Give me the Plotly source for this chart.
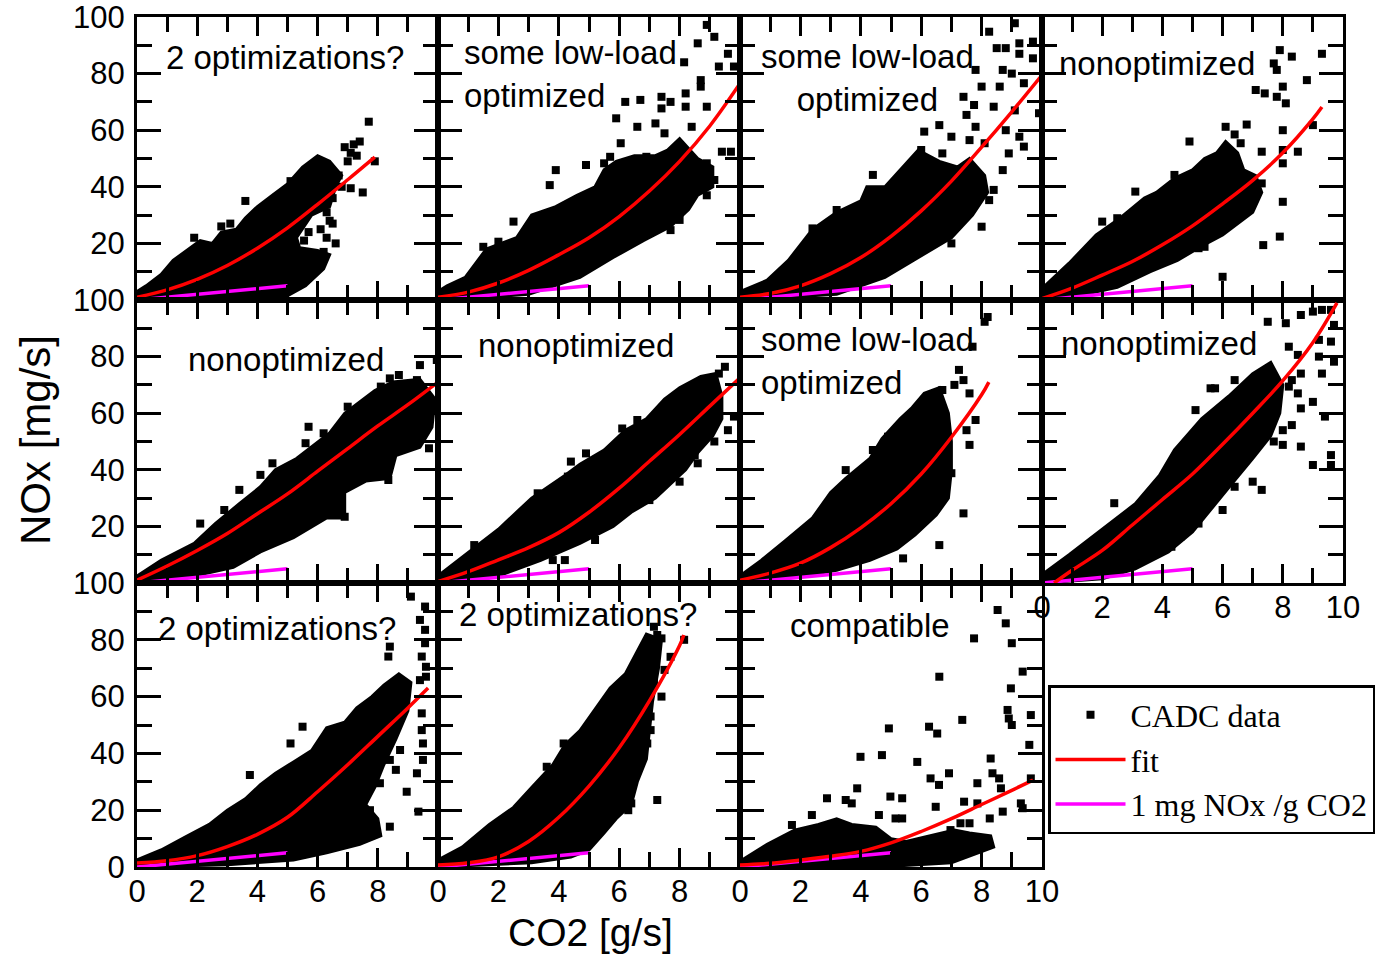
import plotly.graph_objects as go

# ---------------- data ----------------
PANEL_LABELS = [
    ["2 optimizations?"],
    ["some low-load", "optimized"],
    ["some low-load", "optimized"],
    ["nonoptimized"],
    ["nonoptimized"],
    ["nonoptimized"],
    ["some low-load", "optimized"],
    ["nonoptimized"],
    ["2 optimizations?"],
    ["2 optimizations?"],
    ["compatible"],
]

X_TICKS = [0, 2, 4, 6, 8, 10]
Y_TICKS = [0, 20, 40, 60, 80, 100]

# 1 mg NOx / g CO2 reference line
REF_X = [0, 5]
REF_Y = [0, 5]

# fits (x, y)
FIT_1 = [(0, 1), (1, 3.6), (2, 7.3), (3, 12.2), (4, 18.3), (5, 25.5), (6, 33.8), (7, 42.5), (7.9, 50.5)]
FIT_2 = [(0, 1), (1, 2.8), (2, 6), (3, 10.5), (4, 16), (5, 22), (6, 29.5), (7, 38.5), (8, 49), (9, 61.5), (10, 76.5)]
FIT_3 = [(0, 1), (1, 2.3), (2, 5), (3, 9.3), (4, 15), (5, 22.5), (6, 31.5), (7, 42), (8, 54), (9, 66.5), (10, 79.5)]
FIT_4 = [(0, 0.5), (1, 4.2), (2, 8.8), (3, 13.6), (4, 19.5), (5, 26.2), (6, 34), (7, 42.3), (8, 52), (9, 64), (9.3, 68.2)]
FIT_5 = [(0, 1), (1, 6), (2, 11.5), (3, 17.5), (4, 24.5), (5, 31.5), (6, 39.5), (7, 47.5), (8, 55.5), (9, 63), (10, 71)]
FIT_6 = [(0, 0.5), (1, 4), (2, 8.2), (3, 12.5), (4, 17.8), (5, 25), (6, 33.5), (7, 43), (8, 52.5), (9, 62.5), (10, 72.5)]
FIT_7 = [(0, 1), (1, 3.5), (2, 7), (3, 12.5), (4, 19.5), (5, 28), (6, 38.5), (7, 51.5), (8, 66.5), (8.24, 71)]
FIT_8 = [(0.4, 0), (1, 4.5), (2, 11.5), (3, 20.5), (4, 29.5), (5, 38.5), (6, 49), (7, 60), (8, 71.5), (9, 85), (9.8, 99)]
FIT_9 = [(0, 1.4), (1, 2.2), (2, 4), (3, 7.2), (4, 11.5), (5, 17.5), (6, 26.5), (7, 36), (8, 46), (9, 56), (9.67, 63)]
FIT_10 = [(0, 0.7), (1, 1.5), (2, 3.6), (3, 9), (4, 17.5), (5, 28.5), (6, 42), (7, 58.5), (8, 78), (8.14, 81.7)]
FIT_11 = [(0, 0.7), (1, 1.3), (2, 2.5), (3, 3.8), (4, 5.5), (5, 8.5), (6, 12.5), (7, 17), (8, 22), (9, 27), (9.7, 30.6)]

# dense cores of the CADC data clouds (outline of the solid black region)
CORE_1 = [(0, 0), (5, 1.5), (5.6, 5), (6.2, 11), (6.4, 16), (6.0, 17.5), (5.4, 18.5), (5.3, 22), (5.8, 30), (6.4, 33),
          (6.6, 40), (6.8, 44), (6.4, 49), (6.0, 51), (5.5, 47), (5.0, 41), (4.5, 37), (4.0, 33), (3.6, 29), (3.3, 25),
          (2.8, 24), (2.5, 20), (2.1, 21), (1.7, 18), (1.2, 14), (0.8, 9), (0.3, 5), (0, 3)]
CORE_2 = [(0, 0), (3, 2), (4.7, 8), (5.8, 15), (6.8, 21), (7.7, 26), (8.3, 32), (8.6, 37), (9.1, 40), (9.1, 47),
          (8.6, 50), (8.0, 57), (7.6, 53), (7.2, 51), (6.5, 51), (5.9, 49), (5.5, 46), (5.2, 40), (4.6, 37), (3.9, 33),
          (3.1, 30), (2.6, 22), (1.6, 18), (0.9, 8), (0.3, 5), (0, 3)]
CORE_3 = [(0, 0), (3.2, 2), (4.8, 8), (5.9, 15), (7.0, 22), (7.7, 30), (8.2, 38), (8.1, 44), (7.6, 50), (7.2, 47),
          (6.6, 49), (5.9, 53), (5.4, 47), (4.8, 40), (4.2, 40), (4.0, 35), (3.2, 31), (2.4, 25), (1.6, 14), (0.9, 7),
          (0, 3)]
CORE_4 = [(0, 0), (1.2, 1.5), (2.5, 4.5), (3.6, 10), (4.5, 14), (5.3, 19), (6.0, 23), (6.5, 27), (7.0, 31), (7.3, 38),
          (7.1, 44), (6.7, 46), (6.5, 52), (6.1, 56), (5.8, 52), (5.4, 50), (5.0, 46), (4.4, 43), (3.8, 38), (3.4, 36),
          (2.6, 29), (1.8, 23), (0.9, 13), (0, 4)]
CORE_5 = [(0, 0), (1.9, 2.5), (3.2, 5.5), (4.1, 11), (5.2, 16), (6.3, 23), (6.9, 23), (6.9, 32), (7.6, 36), (8.4, 37),
          (8.6, 45), (9.4, 48), (9.8, 55), (9.9, 65), (9.4, 72), (8.5, 71), (7.9, 68), (7.4, 64), (6.9, 60), (6.4, 53),
          (5.8, 48), (5.3, 44), (4.6, 40), (4.1, 34), (3.4, 28), (2.6, 21), (1.9, 14), (0.8, 8), (0, 2.5)]
CORE_6 = [(0, 0), (2, 2.5), (3.4, 8), (4.7, 14), (5.8, 20), (6.4, 25), (7.2, 30), (7.7, 35), (8.2, 40), (8.6, 46),
          (9.1, 52), (9.4, 58), (9.4, 66), (9.2, 74), (8.7, 73), (8.0, 69), (7.5, 65), (6.9, 58), (6.2, 54), (5.5, 47),
          (4.7, 42), (4.2, 38), (3.1, 30), (2.0, 19), (0.8, 9), (0, 2.5)]
CORE_7 = [(0, 0), (2.1, 2.5), (3.2, 4.5), (4.3, 8), (5.2, 12), (5.8, 17), (6.5, 24), (6.9, 30), (7.0, 40), (7.0, 50),
          (6.9, 60), (6.6, 69), (6.1, 67), (5.7, 62), (5.3, 58), (4.7, 51), (4.3, 44), (3.5, 37), (3.0, 32), (2.4, 23),
          (1.5, 15), (0.7, 8), (0, 2.5)]
CORE_8 = [(0, 0), (2, 1.5), (3.1, 5), (4.2, 11), (5.0, 18), (5.6, 26), (6.3, 35), (7.0, 44), (7.6, 52), (7.9, 60),
          (8.0, 70), (7.6, 78), (7.0, 74), (6.2, 66), (5.3, 58), (4.4, 47), (3.9, 38), (3.1, 28), (2.0, 19), (0.9, 10),
          (0, 3)]
CORE_9 = [(0, 0), (3, 0.8), (5.2, 2.5), (6.3, 5), (7.4, 8), (8.1, 11), (8.0, 17), (7.6, 22), (7.9, 28), (8.2, 36),
          (8.6, 45), (9.0, 55), (9.1, 65), (8.7, 68), (8.2, 64), (7.8, 60), (7.3, 56), (6.9, 51), (6.3, 49), (5.8, 41),
          (5.2, 37), (4.6, 33), (4.1, 29), (3.6, 24), (3.0, 20), (2.4, 15), (1.6, 10.5), (0.8, 6), (0, 2.5)]
CORE_10 = [(0, 0), (3.1, 1.5), (4.4, 3.5), (5.0, 6), (5.5, 12), (5.9, 17), (6.4, 22), (6.6, 30), (6.9, 38), (7.0, 48),
           (7.1, 58), (7.3, 70), (7.4, 80), (6.9, 82), (6.6, 76), (6.2, 68), (5.7, 63), (5.3, 57), (4.7, 48), (4.2, 43),
           (3.8, 36), (3.1, 28), (2.5, 21), (1.7, 15), (0.8, 7), (0, 2.5)]
CORE_11 = [(0, 0), (5.4, 0.5), (7.0, 1.5), (8.4, 7), (8.3, 11), (7.6, 12), (7.1, 13), (6.3, 11), (5.5, 9), (5.0, 10),
           (4.5, 14), (3.7, 15), (3.2, 17), (2.6, 15), (1.8, 13), (0.9, 8), (0, 2)]

# individual (sparse) CADC data points
PTS_1 = [(7.7, 63), (7.2, 55), (7.4, 56), (6.9, 54), (7.1, 52), (7.3, 51), (7.0, 49), (7.5, 38), (7.1, 39.5), (6.8, 40),
         (6.5, 36), (6.3, 31), (6.4, 28), (6.5, 27), (6.1, 25), (5.7, 24), (5.55, 21), (6.3, 22), (6.6, 20), (6.2, 17),
         (3.6, 35), (2.8, 26), (4.1, 29.5), (5.1, 42), (5.3, 40), (5.9, 46), (6.2, 48), (4.8, 24), (7.9, 49), (6.7, 44),
         (1.9, 22), (3.1, 27)]
PTS_2 = [(8.9, 97.2), (9.15, 93), (8.6, 90.7), (9.6, 87), (9.3, 82.5), (9.8, 82.5), (8.15, 84), (8.7, 77.7), (8.7, 75.4),
         (8.2, 73), (7.4, 71.8), (7.7, 70), (6.7, 70.7), (6.2, 70), (8.2, 68.3), (8.9, 68.3), (7.4, 67.7), (5.9, 64.2),
         (6.6, 61.2), (7.2, 62.4), (7.5, 58.9), (6.05, 55.4), (4.9, 47.7), (3.9, 45.9), (3.7, 40.6), (2.5, 27.7),
         (1.5, 18.8), (2.0, 20.6), (9.4, 52.4), (9.7, 52.4), (8.9, 37), (8.0, 28.3), (7.7, 24.7), (6.8, 29.4),
         (6.4, 34.2), (5.5, 48.3), (5.7, 50.6), (6.9, 50.6), (8.4, 61.2), (8.9, 48.3), (9.15, 42.4)]
PTS_3 = [(9.1, 97.8), (8.25, 94.8), (9.25, 90.7), (9.7, 91.3), (8.5, 89), (8.8, 89), (9.7, 85.4), (9.25, 87), (8.7, 81.3),
         (7.8, 81.3), (9.0, 80), (8.0, 75.4), (9.4, 76.6), (8.6, 75.4), (7.4, 71.8), (7.75, 68.9), (8.4, 68.3), (9.1, 67),
         (9.9, 66), (7.5, 65.4), (6.1, 59.5), (6.6, 61.8), (7.0, 57.7), (7.8, 61.2), (7.6, 56.5), (8.1, 55.4), (8.8, 60),
         (9.25, 57.7), (9.4, 54.2), (8.9, 51.8), (8.7, 45.9), (8.4, 38.9), (8.25, 35.3), (8.0, 25.9), (7.0, 20),
         (4.4, 44.2), (3.2, 31.8), (2.4, 25.3), (6.0, 53), (6.7, 51.8)]
PTS_4 = [(7.9, 88.3), (8.3, 86), (9.3, 87), (7.7, 83.6), (7.8, 81.3), (8.0, 75.4), (7.1, 74.2), (7.4, 73), (7.8, 71.8),
         (8.1, 69.5), (8.8, 77.7), (9.0, 61.8), (8.0, 60), (8.0, 53), (8.5, 52.4), (8.0, 48.3), (4.9, 56), (7.3, 52.4),
         (6.6, 55.4), (6.1, 61.2), (6.0, 47.7), (7.3, 41.2), (8.0, 34.7), (7.9, 22.4), (7.35, 19.4), (5.2, 18.3),
         (5.4, 18.8), (6.0, 8.2), (3.1, 38.3), (2.0, 27.7), (4.4, 44.2), (2.5, 28.9), (6.8, 62), (6.4, 58.5)]
PTS_5 = [(9.96, 78.8), (9.4, 77), (8.7, 73.5), (8.4, 72.3), (8.1, 69.4), (9.3, 71.7), (9.2, 69.4), (9.0, 64.7), (9.3, 63.5),
         (9.4, 58.8), (9.1, 54), (9.0, 48.8), (9.7, 47.6), (8.35, 36.4), (8.2, 42.3), (7.0, 62.3), (5.7, 55.2), (5.6, 49.4),
         (6.2, 52.9), (6.9, 23.4), (6.5, 27), (4.5, 42.3), (4.1, 38.2), (3.4, 32.9), (2.9, 25.8), (2.1, 21), (8.2, 61.1),
         (7.85, 56.4)]
PTS_6 = [(9.5, 76.4), (9.3, 74), (9.8, 58.8), (9.6, 54), (9.15, 50), (8.6, 42.3), (8.5, 45.2), (8.0, 35.8), (7.0, 29.3),
         (7.7, 37.6), (6.6, 57.6), (6.1, 54.6), (4.4, 42.9), (4.9, 45.8), (4.3, 37.6), (3.3, 31.7), (3.2, 27),
         (5.2, 15.2), (4.2, 8.1), (3.8, 8.1), (2.7, 11.7), (1.2, 13.4), (8.8, 56.4), (8.4, 63.5)]
PTS_7 = [(8.2, 94), (8.1, 92.3), (7.7, 83.5), (7.25, 75.3), (7.4, 71.7), (7.1, 70), (6.7, 68.2), (7.6, 67), (7.8, 57.6),
         (7.5, 54), (7.6, 48.8), (7.4, 24.6), (6.6, 13.4), (5.4, 8.7), (5.6, 51.7), (4.9, 51.7), (3.5, 39.9), (4.4, 47),
         (6.0, 58.8), (6.5, 64.7), (7.0, 38.8), (6.7, 30.5)]
PTS_8 = [(7.5, 92.3), (8.1, 91.8), (8.6, 94.7), (9.0, 95.9), (9.3, 96.5), (9.6, 96.5), (9.7, 91.2), (9.2, 85.9),
         (9.6, 85.3), (9.2, 80), (9.7, 78.2), (8.2, 83.5), (8.5, 80.6), (8.3, 71.7), (8.6, 74), (9.3, 74), (8.2, 69.4),
         (8.5, 67), (9.0, 64), (8.6, 61.7), (9.4, 58.8), (9.0, 41.7), (9.6, 45.2), (9.6, 41.7), (8.3, 55.8), (8.0, 54),
         (7.7, 50), (8.0, 48.8), (8.6, 48.2), (7.1, 54), (7.2, 51.7), (6.9, 48.2), (6.4, 71.7), (5.6, 68.8), (5.75, 68.8),
         (5.1, 61.1), (6.5, 50.5), (6.0, 47), (7.0, 35.8), (7.3, 32.9), (6.4, 34), (5.6, 28.8), (6.0, 25.8), (5.2, 21),
         (4.6, 16.4), (4.3, 12.8), (2.4, 28.2)]
PTS_9 = [(9.1, 95.2), (9.57, 91.7), (9.4, 87), (9.57, 83.5), (9.57, 78.8), (9.46, 74.1), (9.6, 70.5), (9.6, 67), (8.4, 77.6),
         (8.35, 74.1), (9.4, 65.8), (9.46, 54.1), (9.46, 48.2), (9.5, 43.5), (9.5, 37.7), (9.3, 33), (8.96, 26.5),
         (9.35, 19.5), (8.6, 34.2), (8.4, 37.7), (8.74, 41.2), (8.07, 29.5), (8.4, 14.2), (7.74, 20), (7.5, 21.2),
         (3.75, 32.4), (5.1, 43.5), (5.5, 49.4), (7.74, 57.6), (8.5, 55.3), (8.74, 58.8), (8.3, 50.6), (7.4, 34.2)]
PTS_10 = [(8.15, 80), (7.4, 80.5), (7.15, 84.6), (7.26, 81.7), (7.7, 74), (7.5, 69.4), (7.15, 65.8), (7.4, 60), (7.04, 53),
          (7.04, 48.2), (6.93, 43.5), (6.6, 37.7), (6.5, 34.2), (6.4, 29.5), (6.4, 22.4), (6.3, 20), (7.26, 23.6),
          (5.27, 16.5), (4.16, 43.5), (3.6, 35.3), (5.5, 31.8), (5.5, 36.5), (5.9, 34.2), (5.4, 27), (4.94, 29.5),
          (5.7, 27)]
PTS_11 = [(8.53, 90.5), (8.8, 85.8), (9.0, 78.8), (7.75, 80.5), (6.6, 67), (9.36, 68.8), (8.97, 62.9), (8.86, 55.3),
          (8.9, 52.3), (9.0, 50), (9.63, 53.5), (9.58, 43), (4.93, 48.8), (3.99, 38.8), (4.7, 39.4), (6.26, 49.4),
          (6.53, 47), (5.87, 37), (7.36, 51.8), (8.3, 38.2), (6.31, 31.2), (6.59, 28.9), (6.92, 33), (7.86, 29.5),
          (8.36, 33), (8.58, 31.2), (8.64, 27.7), (9.63, 31.2), (9.3, 22.4), (9.36, 20.7), (8.7, 19.5), (8.27, 17.1),
          (7.42, 23), (7.3, 15.4), (7.6, 15.4), (6.48, 21.2), (3.88, 27.7), (2.88, 24.2), (3.5, 23.6), (3.7, 22.4),
          (2.38, 18.3), (1.72, 14.8), (4.98, 24.8), (5.37, 24.2), (5.15, 17.1), (5.37, 17.1), (4.6, 18.3), (6.97, 13),
          (7.86, 22.4)]

FITS = [FIT_1, FIT_2, FIT_3, FIT_4, FIT_5, FIT_6, FIT_7, FIT_8, FIT_9, FIT_10, FIT_11]
CORES = [CORE_1, CORE_2, CORE_3, CORE_4, CORE_5, CORE_6, CORE_7, CORE_8, CORE_9, CORE_10, CORE_11]
POINTS = [PTS_1, PTS_2, PTS_3, PTS_4, PTS_5, PTS_6, PTS_7, PTS_8, PTS_9, PTS_10, PTS_11]

# ---------------- layout (pixels of the 1400x959 page) ----------------
W, H = 1400, 959
COL_PX = [(137, 438), (438, 740), (740, 1042), (1042, 1343)]
ROW_PX = [(17, 300), (300, 583), (583, 867)]
PANEL_POS = [(0, 0), (0, 1), (0, 2), (0, 3), (1, 0), (1, 1), (1, 2), (1, 3), (2, 0), (2, 1), (2, 2)]
# label placement per panel: (x px, y px of block centre, xanchor/align)
LABEL_PX = [
    (285, 57, "center"),
    (462, 74, "left"),
    (867, 78, "center"),
    (1157, 63, "center"),
    (286, 359, "center"),
    (576, 345, "center"),
    (759, 361, "left"),
    (1159, 343, "center"),
    (277, 628, "center"),
    (578, 614, "center"),
    (870, 625, "center"),
]

SANS = "Liberation Sans"
SERIF = "Liberation Serif"
TICK_FONT = dict(family=SANS, size=31, color="black")


def fx(px):
    return px / W


def fy(py):
    return 1 - py / H


fig = go.Figure()
layout = dict(
    width=W, height=H, margin=dict(l=0, r=0, t=0, b=0, autoexpand=False),
    paper_bgcolor="white", plot_bgcolor="white",
    showlegend=True,
)

annotations = []

for k, (r, c) in enumerate(PANEL_POS, start=1):
    xn = "x" if k == 1 else f"x{k}"
    yn = "y" if k == 1 else f"y{k}"
    xkey = "xaxis" if k == 1 else f"xaxis{k}"
    ykey = "yaxis" if k == 1 else f"yaxis{k}"

    c0, c1 = COL_PX[c]
    r0, r1 = ROW_PX[r]

    show_x = k in (8, 9, 10, 11)
    if k in (9, 10):
        xtext = [str(v) for v in X_TICKS[:-1]] + [""]
    else:
        xtext = [str(v) for v in X_TICKS]
    show_y = k in (1, 5, 9)
    if k == 9:
        ytext = [str(v) for v in Y_TICKS]
    else:
        ytext = [""] + [str(v) for v in Y_TICKS[1:]]

    layout[xkey] = dict(
        domain=[fx(c0), fx(c1)], range=[0, 10], anchor=yn, automargin=False,
        showline=True, linewidth=3, linecolor="black", mirror="ticks",
        ticks="inside", ticklen=19, tickwidth=2.5, tickcolor="black",
        tickmode="array", tickvals=X_TICKS, ticktext=xtext,
        showticklabels=show_x, tickfont=TICK_FONT, ticklabelstandoff=-5,
        ticklabeloverflow="allow",
        minor=dict(dtick=1, tick0=0, ticks="inside", ticklen=15, tickwidth=2.5, tickcolor="black", showgrid=False),
        showgrid=False, zeroline=False, fixedrange=True,
    )
    layout[ykey] = dict(
        domain=[fy(r1), fy(r0)], range=[0, 100], anchor=xn, automargin=False,
        showline=True, linewidth=3, linecolor="black", mirror="ticks",
        ticks="inside", ticklen=24, tickwidth=2.5, tickcolor="black",
        tickmode="array", tickvals=Y_TICKS, ticktext=ytext,
        showticklabels=show_y, tickfont=TICK_FONT, ticklabelstandoff=3,
        ticklabeloverflow="allow",
        minor=dict(dtick=10, tick0=0, ticks="inside", ticklen=15, tickwidth=2.5, tickcolor="black", showgrid=False),
        showgrid=False, zeroline=False, fixedrange=True,
    )

    core = CORES[k - 1]
    fig.add_trace(go.Scatter(
        x=[p[0] for p in core], y=[p[1] for p in core], xaxis=xn, yaxis=yn,
        mode="lines", fill="toself", fillcolor="black",
        line=dict(color="black", width=3), showlegend=False, hoverinfo="skip",
    ))
    pts = POINTS[k - 1]
    fig.add_trace(go.Scatter(
        x=[p[0] for p in pts], y=[p[1] for p in pts], xaxis=xn, yaxis=yn,
        mode="markers", marker=dict(symbol="square", size=8, color="black", line=dict(width=0)),
        name="CADC data", legendgroup="data", showlegend=(k == 1), legendrank=1,
    ))
    fig.add_trace(go.Scatter(
        x=REF_X, y=REF_Y, xaxis=xn, yaxis=yn, mode="lines",
        line=dict(color="#ff00ff", width=3.5),
        name="1 mg NOx /g CO2", legendgroup="ref", showlegend=(k == 1), legendrank=3,
    ))
    fit = FITS[k - 1]
    fig.add_trace(go.Scatter(
        x=[p[0] for p in fit], y=[p[1] for p in fit], xaxis=xn, yaxis=yn, mode="lines",
        line=dict(color="#ff0000", width=3.5, shape="spline"),
        name="fit", legendgroup="fit", showlegend=(k == 1), legendrank=2,
    ))

    lx, ly, anc = LABEL_PX[k - 1]
    annotations.append(dict(
        text="<br>".join(PANEL_LABELS[k - 1]), x=fx(lx), y=fy(ly), xref="paper", yref="paper",
        xanchor=anc, yanchor="middle", align=anc, showarrow=False,
        font=dict(family=SANS, size=33, color="black"),
    ))

annotations.append(dict(
    text="NOx [mg/s]", x=fx(35), y=fy(440), xref="paper", yref="paper",
    xanchor="center", yanchor="middle", showarrow=False, textangle=-90,
    font=dict(family=SANS, size=42, color="black"),
))
annotations.append(dict(
    text="CO2 [g/s]", x=fx(590), y=fy(932), xref="paper", yref="paper",
    xanchor="center", yanchor="middle", showarrow=False,
    font=dict(family=SANS, size=39, color="black"),
))

layout["annotations"] = annotations
layout["legend"] = dict(
    x=fx(1048), y=fy(685), xanchor="left", yanchor="top",
    bgcolor="white", bordercolor="black", borderwidth=2.5,
    font=dict(family=SERIF, size=32, color="black"),
    tracegroupgap=0, itemwidth=70,
)

fig.update_layout(**layout)
fig.write_html("out.html")
